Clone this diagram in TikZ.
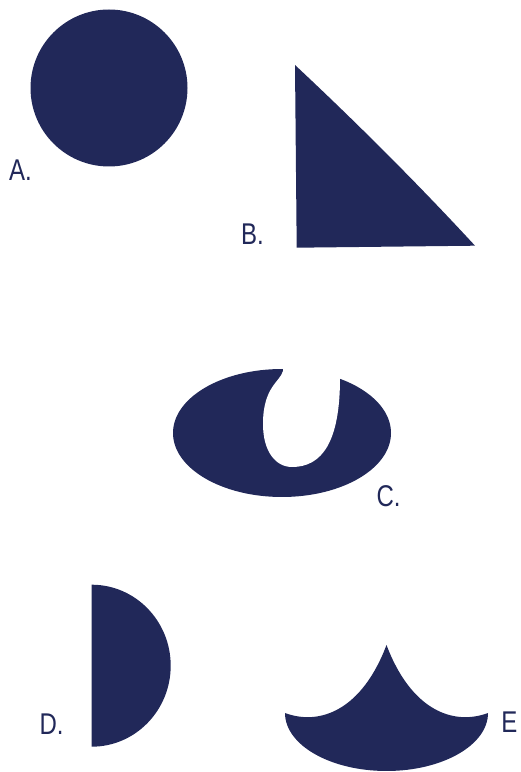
\documentclass[tikz,border=0pt]{standalone}
\usepackage{fontspec}
\setmainfont{Liberation Sans}
\definecolor{navy}{RGB}{33,40,89}
\begin{document}
\begin{tikzpicture}[x=1pt,y=1pt,
  shapefill/.style={fill=navy},
  lbl/.style={text=navy,font=\fontsize{30}{30}\selectfont,inner sep=0pt,xscale=0.8}]
\useasboundingbox (0,0) rectangle (521,772);
% A circle
\fill[shapefill] (109,684) circle[radius=78.5];
\node[lbl] (la) at (20.5,602) {A.};
% B triangle
\fill[shapefill] (295,707) .. controls (358,648) and (418,588) .. (475,526.3)
  -- (296.7,524.3) -- cycle;
\node[lbl] (lb) at (252.5,538) {B.};
% C ellipse with hole
\fill[shapefill] (282,339) ellipse[x radius=109, y radius=64];
\fill[white] (283,401) .. controls (280,390) and (263,385) .. (263,348)
  .. controls (263,320) and (276,305) .. (292,305)
  .. controls (322,305) and (340,330) .. (340,394)
  -- (340,420) -- (283,420) -- cycle;
\node[lbl] (lc) at (388.5,275.5) {C.};
% D half disk
\fill[shapefill] (91.7,25.3) arc[start angle=-90, end angle=90, x radius=79, y radius=81] -- cycle;
\node[lbl] (ld) at (51.5,48) {D.};
% E
\fill[shapefill] (285,59) .. controls (320,46) and (362,62) .. (386.5,127)
  .. controls (411,62) and (453,46) .. (488,59)
  arc[start angle=0, end angle=-180, x radius=101.5, y radius=58] -- cycle;
\node[lbl] (le) at (509.5,50) {E};
\end{tikzpicture}
\end{document}
